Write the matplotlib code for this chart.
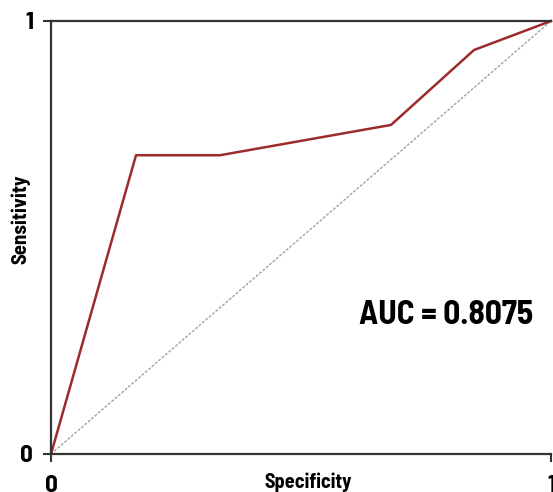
import matplotlib
matplotlib.use("Agg")
import matplotlib.pyplot as plt

# ROC data (1 - specificity on x, sensitivity on y)
fpr = [0.0, 0.17, 0.338, 0.68, 0.846, 1.0]
tpr = [0.0, 0.69, 0.69, 0.76, 0.933, 1.0]
diag = [0.0, 1.0]
auc_text = "AUC = 0.8075"
x_ticks = [0, 1]
y_ticks = [0, 1]

plt.rcParams['font.family'] = ['Barlow Semi Condensed', 'DejaVu Sans']
plt.rcParams['font.weight'] = 'bold'

fig = plt.figure(figsize=(5.53, 4.92), dpi=100)
ax = fig.add_axes([51/553, 38/492, 500/553, 433/492])

ax.plot(diag, diag, color='#a0a0a0', lw=1.0, ls=(0, (2, 1.2)), zorder=1)
ax.plot(fpr, tpr, color='#9c2b2b', lw=1.8, zorder=2, clip_on=False)

ax.set_xlim(0, 1)
ax.set_ylim(0, 1)
ax.set_xticks(x_ticks)
ax.set_yticks(y_ticks)
ax.set_xticklabels([str(t) for t in x_ticks])
ax.set_yticklabels([str(t) for t in y_ticks])
ax.tick_params(axis='both', direction='out', length=6, width=1.5, color='#333333',
               labelsize=18, pad=9)
ax.tick_params(axis='y', pad=7)

for s in ['left', 'bottom', 'top']:
    ax.spines[s].set_linewidth(1.6)
    ax.spines[s].set_color('#333333')
ax.spines['right'].set_visible(False)

ax.text(0.514, -0.065, "Specificity", transform=ax.transAxes, ha='center', va='center',
        fontsize=14.5, fontweight='bold')
ax.text(-0.06, 0.543, "Sensitivity", transform=ax.transAxes, ha='center', va='center',
        fontsize=15, fontweight='bold', rotation=90)
ax.text(0.79, 0.32, auc_text, transform=ax.transAxes, ha='center', va='center',
        fontsize=24, fontweight='bold')

fig.savefig("out.png", dpi=100)
